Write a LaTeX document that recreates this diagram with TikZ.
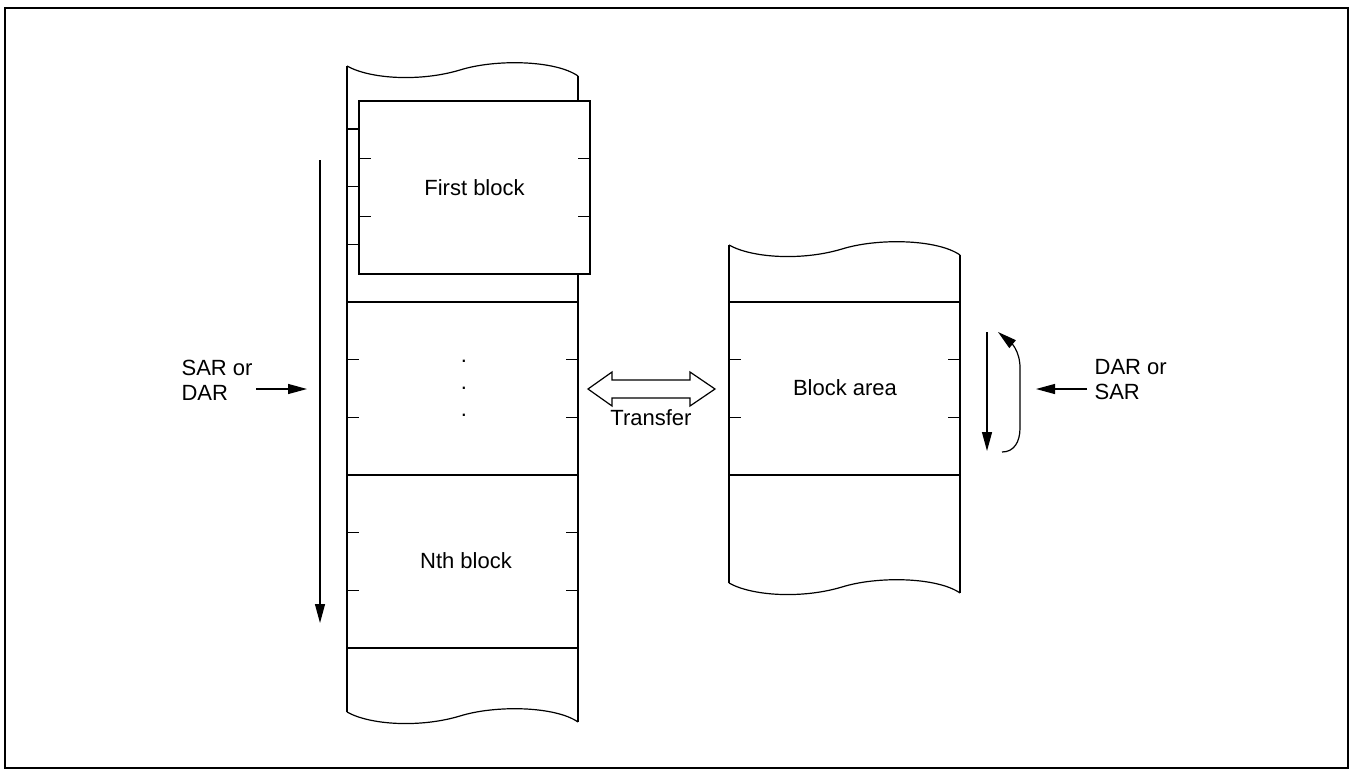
\documentclass[tikz,border=0pt]{standalone}
\usepackage{fontspec}
\setmainfont{Liberation Sans}
\usetikzlibrary{arrows.meta}

\tikzset{
  tornedge/.pic={\draw (0,0) .. controls (23,13) and (73,16) .. (113,4) .. controls (148,-7) and (208,-6) .. (231,10);},
  lbl/.style={font=\fontsize{11}{12.5}\selectfont, inner sep=0pt},
  arr/.style={-{Triangle[length=9.5pt,width=5pt]}}
}

\begin{document}
\begin{tikzpicture}[x=0.5pt,y=-0.5pt,line width=0.6pt]
\useasboundingbox (0,0) rectangle (1353,776);
\draw[line width=0.9pt] (5,8) rectangle (1348,768);

% left area
\pic at (347,66) {tornedge};
\pic at (347,712) {tornedge};
\draw (347,66) -- (347,712);
\draw (578,76) -- (578,722);
\foreach \y in {129,302,475,648} \draw (347,\y) -- (578,\y);
\foreach \y in {186.7,244.3,359.7,417.3,532.7,590.3} {
  \draw (347,\y) -- +(12,0);
  \draw (578,\y) -- +(-12,0);
}
\draw[fill=white] (359,101) rectangle (590,274);
\draw (359,158.7) -- +(12,0);
\draw (359,216.3) -- +(12,0);
\draw (590,158.7) -- +(-12,0);
\draw (590,216.3) -- +(-12,0);
\node[lbl] (first) at (474.5,187.5) {First block};
\node[lbl] (dot1) at (464,361) {.};
\node[lbl] (dot2) at (464,388) {.};
\node[lbl] (dot3) at (464,415) {.};
\node[lbl] (nth) at (466,561) {Nth block};

% right area
\pic at (729,245) {tornedge};
\pic at (729,583) {tornedge};
\draw (729,245) -- (729,583);
\draw (960,255) -- (960,593);
\draw (729,302) -- (960,302);
\draw (729,475) -- (960,475);
\draw (729,359.7) -- +(12,0);
\draw (729,417.3) -- +(12,0);
\draw (960,359.7) -- +(-12,0);
\draw (960,417.3) -- +(-12,0);
\node[lbl] (area) at (845,388) {Block area};

% transfer
\draw (588,389) -- (612,372) -- (612,380) -- (690,380) -- (690,372) -- (715,389)
  -- (690,406) -- (690,398) -- (612,398) -- (612,406) -- cycle;
\node[lbl] (transfer) at (651,418) {Transfer};

% address registers
\node[lbl,align=left,anchor=west] (sar) at (181,380) {SAR or\\DAR};
\node[lbl,align=left,anchor=west] (dar) at (1094,380) {DAR or\\SAR};
\coordinate (sarfrom) at (256,389);
\coordinate (sarto) at (307,389);
\coordinate (darfrom) at (1087,389);
\coordinate (darto) at (1036,389);
\draw[arr] (sarfrom) -- (sarto);
\draw[arr] (darfrom) -- (darto);
\coordinate (scantop) at (320,160);
\coordinate (scanend) at (320,623);
\draw[arr] (scantop) -- (scanend);
\coordinate (looptop) at (987,332);
\coordinate (loopend) at (987,451);
\draw[arr] (looptop) -- (loopend);
\draw[arr] (1002,452) .. controls (1014,452) and (1020,442) .. (1020,428) -- (1020,368)
  .. controls (1020,350) and (1010,342) .. (998,332);
\end{tikzpicture}
\end{document}
